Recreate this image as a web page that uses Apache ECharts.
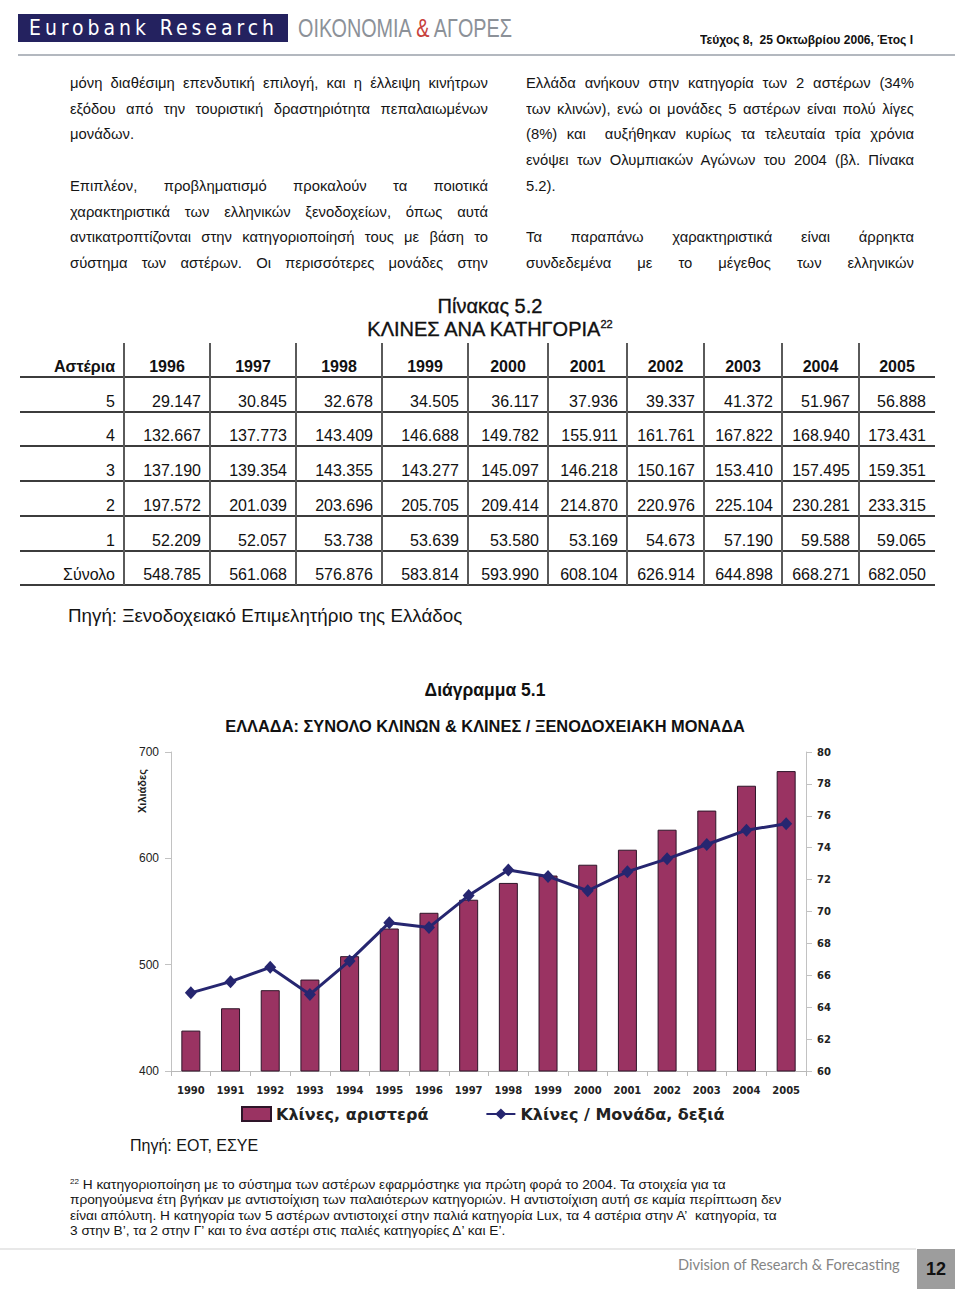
<!DOCTYPE html>
<html><head><meta charset="utf-8">
<script src="https://cdn.jsdelivr.net/npm/echarts@6/dist/echarts.min.js"></script>
<style>
html,body{margin:0;padding:0;background:#fff;}
body{width:960px;height:1299px;position:relative;overflow:hidden;font-family:"Liberation Sans",Arial,sans-serif;color:#111;}
.abs{position:absolute;}
.col{font-size:14.8px;line-height:25.7px;overflow:hidden;color:#151515;}
.j{text-align:justify;text-align-last:justify;}
.l{text-align:left;}
.blank{height:25.7px;}
.cell{position:absolute;font-size:16px;white-space:nowrap;box-sizing:border-box;}
.fit{white-space:nowrap;transform-origin:0 0;}
</style></head><body>

<!-- header -->
<div class="abs" style="left:18px;top:14px;width:270px;height:28px;background:#24225f;"></div>
<div class="abs fit" data-w="249" style="left:29px;top:12px;height:32px;line-height:32px;color:#fff;font-family:'DejaVu Sans Condensed','DejaVu Sans';font-size:22px;letter-spacing:4.2px;">Eurobank Research</div>
<div class="abs fit" data-w="214" style="left:298px;top:10px;height:36px;line-height:36px;font-size:26px;color:#8c9198;">ΟΙΚΟΝΟΜΙΑ <span style="color:#c8423c">&amp;</span> ΑΓΟΡΕΣ</div>
<div class="abs fit" data-w="213" style="left:700px;top:32px;font-size:13px;font-weight:bold;color:#111;">Τεύχος 8,&nbsp; 25 Οκτωβρίου 2006, Έτος Ι</div>
<div class="abs" style="left:18px;top:54px;width:937px;height:2px;background:#b3b8bf;"></div>

<!-- text columns -->
<div class="abs col" style="left:70px;top:71px;width:418px;height:200px;">
<div class="j">μόνη διαθέσιμη επενδυτική επιλογή, και η έλλειψη κινήτρων</div>
<div class="j">εξόδου από την τουριστική δραστηριότητα πεπαλαιωμένων</div>
<div class="l">μονάδων.</div>
<div class="blank"></div>
<div class="j">Επιπλέον, προβληματισμό προκαλούν τα ποιοτικά</div>
<div class="j">χαρακτηριστικά των ελληνικών ξενοδοχείων, όπως αυτά</div>
<div class="j">αντικατροπτίζονται στην κατηγοριοποίησή τους με βάση το</div>
<div class="j">σύστημα των αστέρων. Οι περισσότερες μονάδες στην</div>
</div>
<div class="abs col" style="left:526px;top:71px;width:388px;height:200px;">
<div class="j">Ελλάδα ανήκουν στην κατηγορία των 2 αστέρων (34%</div>
<div class="j">των κλινών), ενώ οι μονάδες 5 αστέρων είναι πολύ λίγες</div>
<div class="j">(8%) και&nbsp; αυξήθηκαν κυρίως τα τελευταία τρία χρόνια</div>
<div class="j">ενόψει των Ολυμπιακών Αγώνων του 2004 (βλ. Πίνακα</div>
<div class="l">5.2).</div>
<div class="blank"></div>
<div class="j">Τα παραπάνω χαρακτηριστικά είναι άρρηκτα</div>
<div class="j">συνδεδεμένα με το μέγεθος των ελληνικών</div>
</div>

<!-- table title -->
<div class="abs" style="left:0;top:295px;width:980px;text-align:center;font-size:20px;line-height:23px;-webkit-text-stroke:0.35px #111;">Πίνακας 5.2<br>ΚΛΙΝΕΣ ΑΝΑ ΚΑΤΗΓΟΡΙΑ<sup style="font-size:11px;vertical-align:8px;line-height:0">22</sup></div>
<div id="table"></div>
<div class="abs" style="left:68px;top:605px;font-size:18.8px;white-space:nowrap;color:#151515;">Πηγή: Ξενοδοχειακό Επιμελητήριο της Ελλάδος</div>

<!-- chart -->
<div id="chart" class="abs" style="left:0;top:670px;width:960px;height:470px;"></div>

<div class="abs" style="left:130px;top:1137px;font-size:16px;white-space:nowrap;color:#151515;">Πηγή: ΕΟΤ, ΕΣΥΕ</div>
<div class="abs" style="left:70px;top:1177px;font-size:13.7px;line-height:15.4px;white-space:nowrap;color:#151515;"><sup style="font-size:8px;line-height:0;vertical-align:5px">22</sup> Η κατηγοριοποίηση με το σύστημα των αστέρων εφαρμόστηκε για πρώτη φορά το 2004. Τα στοιχεία για τα<br>προηγούμενα έτη βγήκαν με αντιστοίχιση των παλαιότερων κατηγοριών. Η αντιστοίχιση αυτή σε καμία περίπτωση δεν<br>είναι απόλυτη. Η κατηγορία των 5 αστέρων αντιστοιχεί στην παλιά κατηγορία Lux, τα 4 αστέρια στην Α’&nbsp; κατηγορία, τα<br>3 στην Β’, τα 2 στην Γ’ και το ένα αστέρι στις παλιές κατηγορίες Δ’ και Ε’.</div>

<!-- footer -->
<div class="abs" style="left:0;top:1248px;width:916px;height:2px;background:#e8e8e8;"></div>
<div class="abs" style="left:678px;top:1256px;font-family:Lato,'Liberation Sans';font-size:14.6px;color:#858585;white-space:nowrap;">Division of Research &amp; Forecasting</div>
<div class="abs" style="left:917px;top:1249px;width:38px;height:40px;background:#9d9d9d;text-align:center;line-height:40px;font-size:18px;font-weight:bold;color:#111;">12</div>

<script>
// ---- table data (thousands of beds) ----
const tableYears = ['1996','1997','1998','1999','2000','2001','2002','2003','2004','2005'];
const starLabels = ['5','4','3','2','1','Σύνολο'];
const stars5 = [29.147,30.845,32.678,34.505,36.117,37.936,39.337,41.372,51.967,56.888];
const stars4 = [132.667,137.773,143.409,146.688,149.782,155.911,161.761,167.822,168.940,173.431];
const stars3 = [137.190,139.354,143.355,143.277,145.097,146.218,150.167,153.410,157.495,159.351];
const stars2 = [197.572,201.039,203.696,205.705,209.414,214.870,220.976,225.104,230.281,233.315];
const stars1 = [52.209,52.057,53.738,53.639,53.580,53.169,54.673,57.190,59.588,59.065];
const totals = [548.785,561.068,576.876,583.814,593.990,608.104,626.914,644.898,668.271,682.050];

// ---- chart data ----
const chartYears = ['1990','1991','1992','1993','1994','1995','1996','1997','1998','1999','2000','2001','2002','2003','2004','2005'];
const beds = [438,459,476,486,508,534,548.785,561.068,576.876,583.814,593.990,608.104,626.914,644.898,668.271,682.050];
const bedsPerUnit = [64.9,65.6,66.5,64.8,66.9,69.3,69.0,71.0,72.6,72.2,71.3,72.5,73.3,74.2,75.1,75.5];

// ---- fit header texts to their widths ----
document.querySelectorAll('.fit').forEach(el=>{
  const target = parseFloat(el.getAttribute('data-w'));
  const w = el.getBoundingClientRect().width;
  if (w > 0) el.style.transform = 'scaleX(' + (target / w) + ')';
});

// ---- build table ----
(function(){
  const colX = [20,124,210,296,382,468,548,627,704,782,859,935];
  const rowY = [343,377,412,446,481,516,551,585];
  const rows = [stars5,stars4,stars3,stars2,stars1,totals];
  const t = document.getElementById('table');
  let html = '';
  function cell(x0,x1,y0,y1,txt,align,bold){
    const pad = align==='right' ? 'padding-right:9px;' : '';
    return '<div class="cell" style="left:'+x0+'px;top:'+(y0+7)+'px;width:'+(x1-x0)+'px;height:'+(y1-y0)+'px;line-height:'+(y1-y0)+'px;text-align:'+align+';'+pad+(bold?'font-weight:bold;':'')+'">'+txt+'</div>';
  }
  html += cell(colX[0],colX[1],rowY[0],rowY[1],'Αστέρια','right',true);
  tableYears.forEach((y,i)=>{ html += cell(colX[i+1],colX[i+2],rowY[0],rowY[1],y,'center',true); });
  rows.forEach((r,ri)=>{
    html += cell(colX[0],colX[1],rowY[ri+1],rowY[ri+2],starLabels[ri],'right',false);
    r.forEach((v,ci)=>{ html += cell(colX[ci+1],colX[ci+2],rowY[ri+1],rowY[ri+2],v.toFixed(3),'right',false); });
  });
  for(let k=1;k<rowY.length;k++){
    html += '<div class="abs" style="left:20px;top:'+(rowY[k]-1)+'px;width:915px;height:2px;background:#3c3c3c;"></div>';
  }
  for(let k=1;k<colX.length-1;k++){
    html += '<div class="abs" style="left:'+(colX[k]-1)+'px;top:343px;width:1.5px;height:242px;background:#5a5a5a;"></div>';
  }
  t.innerHTML = html;
})();

// ---- chart ----
const chart = echarts.init(document.getElementById('chart'), null, {renderer:'svg'});
chart.setOption({
  animation:false,
  grid:{left:171,right:154,top:82,bottom:69,outerBoundsMode:'none'},
  graphic:[
    {type:'text',x:485,y:20,style:{text:'Διάγραμμα 5.1',fontSize:17.5,fontWeight:'bold',fontFamily:'Liberation Sans',fill:'#111',align:'center',verticalAlign:'middle'}},
    {type:'text',x:485,y:56,style:{text:'ΕΛΛΑΔΑ: ΣΥΝΟΛΟ ΚΛΙΝΩΝ & ΚΛΙΝΕΣ / ΞΕΝΟΔΟΧΕΙΑΚΗ ΜΟΝΑΔΑ',fontSize:16.4,fontWeight:'bold',fontFamily:'Liberation Sans',fill:'#111',align:'center',verticalAlign:'middle'}},
    {type:'text',x:142,y:121,rotation:Math.PI/2,style:{text:'Χιλιάδες',fontSize:11,fontWeight:'bold',fontFamily:'Liberation Sans',fill:'#222',align:'center',verticalAlign:'middle'}}
  ],
  legend:{
    left:241,top:436,padding:0,itemWidth:29,itemHeight:14,itemGap:57,
    textStyle:{fontFamily:'DejaVu Sans',fontWeight:'bold',fontSize:16,color:'#222'},
    data:[{name:'Κλίνες, αριστερά',icon:'rect'},{name:'Κλίνες / Μονάδα, δεξιά'}]
  },
  xAxis:{
    type:'category',data:chartYears,
    axisLine:{lineStyle:{color:'#b8b8b8',width:1}},
    axisTick:{show:true,length:5,lineStyle:{color:'#b8b8b8'}},
    axisLabel:{margin:14,fontFamily:'DejaVu Sans',fontWeight:'bold',fontSize:10,color:'#222'}
  },
  yAxis:[
    {type:'value',min:400,max:700,interval:100,position:'left',
     axisLine:{show:true,lineStyle:{color:'#c2c2c2'}},
     axisTick:{show:true,length:6,lineStyle:{color:'#c2c2c2'}},
     splitLine:{show:false},
     axisLabel:{margin:12,fontSize:12,fontFamily:'Liberation Sans',color:'#222'}},
    {type:'value',min:60,max:80,interval:2,position:'right',
     axisLine:{show:true,lineStyle:{color:'#c2c2c2'}},
     axisTick:{show:true,length:6,lineStyle:{color:'#c2c2c2'}},
     splitLine:{show:false},
     axisLabel:{margin:11,fontSize:10,fontWeight:'bold',fontFamily:'DejaVu Sans',color:'#222'}}
  ],
  series:[
    {name:'Κλίνες, αριστερά',type:'bar',data:beds,barWidth:19,
     itemStyle:{color:'#9a3362',borderColor:'#2e1529',borderWidth:1}},
    {name:'Κλίνες / Μονάδα, δεξιά',type:'line',yAxisIndex:1,data:bedsPerUnit,
     symbol:'diamond',symbolSize:[12,13],
     lineStyle:{color:'#262670',width:3},itemStyle:{color:'#262670'}}
  ]
});
</script>
</body></html>
